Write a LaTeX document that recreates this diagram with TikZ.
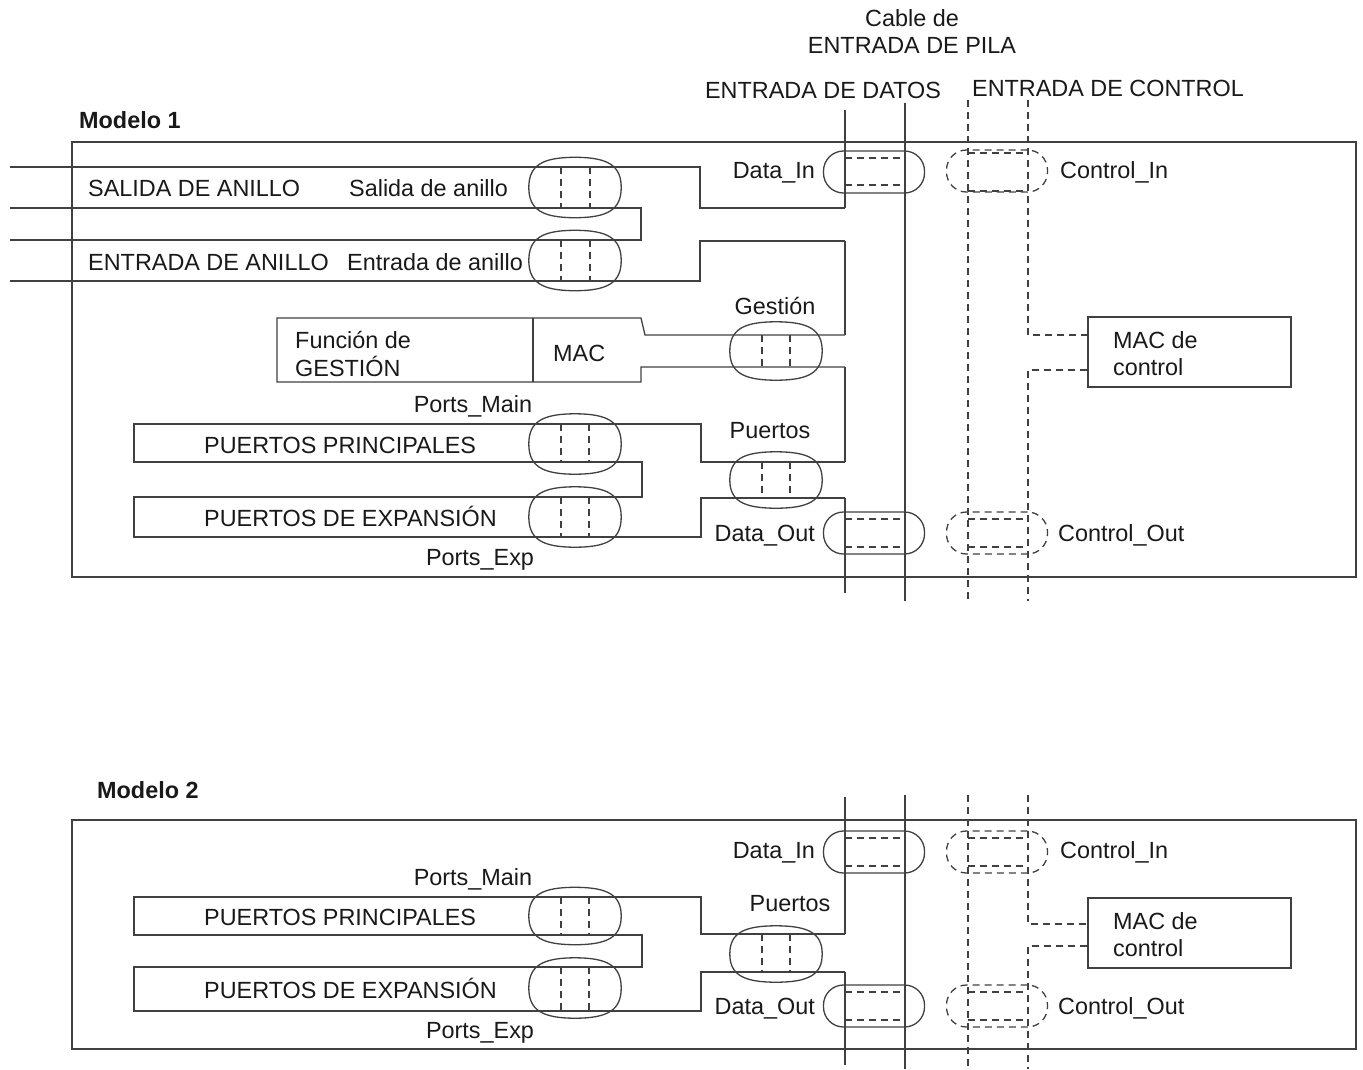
\documentclass[tikz,border=0pt]{standalone}
\usepackage{fontspec}
\setmainfont{Liberation Sans}
\usetikzlibrary{positioning,calc}

\begin{document}
\begin{tikzpicture}
	[   x=1pt,y=-1pt,
	    txt/.style={font=\fontsize{23.4}{27}\selectfont,inner sep=0pt,text=black!90},
	    ttl/.style={txt,font=\fontsize{23.4}{27}\selectfont\bfseries},
	    ring/.style={minimum width=92pt,minimum height=#1,inner sep=0pt},
	    ring/.default=60pt,
	    jack/.style={draw=black!75,line width=1.3pt,rounded corners=20pt,minimum width=101pt,minimum height=42pt,inner sep=0pt},
	    cbox/.style={draw=black!75,line width=1.3pt,minimum width=203pt,minimum height=70pt,inner sep=0pt},
	]
	\tikzset{wire/.style={draw=black!75,line width=1.3pt},
	         ctl/.style={wire,dash pattern=on 7pt off 5pt}}
	\useasboundingbox (0,0) rectangle (1363,1069);

	% cable titles
	\node[txt,anchor=base] (cab-a) at (912,26) {Cable de};
	\node[txt,anchor=base] (cab-b) at (912,53) {ENTRADA DE PILA};
	\node[txt,anchor=base] (cab-d) at (823,98) {ENTRADA DE DATOS};
	\node[txt,anchor=base] (cab-c) at (1108,96) {ENTRADA DE CONTROL};

	%%%%% Modelo 1
	\node[ttl,anchor=base west] (m1) at (79,128) {Modelo 1};
	\draw[wire] (72,142) rectangle (1356,577);

	% ring wires
	\draw[wire] (10,167) -- (700,167) -- (700,208) -- (845,208);
	\draw[wire] (10,208) -- (641,208) -- (641,240) -- (10,240);
	\draw[wire] (10,281) -- (700,281) -- (700,241) -- (845,241);
	\node[ring] (r-out) at (575,187.5) {};
	\node[ring] (r-in) at (575,260.5) {};
	\foreach \x in {561,590}
	{
		\draw[ctl] (\x,167) -- (\x,208);
		\draw[ctl] (\x,240) -- (\x,281);
	}
	\node[txt,anchor=base west] (l-so) at (88,196) {SALIDA DE ANILLO};
	\node[txt,anchor=base west] (l-sa) at (349,196) {Salida de anillo};
	\node[txt,anchor=base west] (l-eo) at (88,270) {ENTRADA DE ANILLO};
	\node[txt,anchor=base west] (l-ea) at (347,270) {Entrada de anillo};

	% management function + MAC
	\draw[wire] (533,318) -- (533,382);
	\draw[wire] (845,335) -- (645,335) -- (641,318) -- (277,318) -- (277,382) -- (641,382) -- (641,367) -- (845,367);
	\node[txt,anchor=base west] (fg-a) at (295,348) {Función de};
	\node[txt,anchor=base west] (fg-b) at (295,376) {GESTIÓN};
	\node[txt,anchor=base west] (mac) at (553,361) {MAC};
	\node[ring=58pt] (r-ges) at (776,351) {};
	\foreach \x in {762,790} \draw[ctl] (\x,335) -- (\x,367);
	\node[txt,anchor=base] (l-ges) at (775,314) {Gestión};

	% ports
	\draw[wire] (845,462) -- (701,462) -- (701,424) -- (134,424) -- (134,462) -- (642,462) -- (642,497) -- (134,497) -- (134,537) -- (701,537) -- (701,498) -- (845,498);
	\node[ring] (r-pm) at (575,444) {};
	\node[ring] (r-pe) at (575,517) {};
	\node[ring=56pt] (r-pu) at (776,480) {};
	\foreach \x in {561,589}
	{
		\draw[ctl] (\x,424) -- (\x,462);
		\draw[ctl] (\x,497) -- (\x,537);
	}
	\foreach \x in {762,790} \draw[ctl] (\x,462) -- (\x,498);
	\node[txt,anchor=base] (l-pm) at (473,412) {Ports\_Main};
	\node[txt,anchor=base west] (l-pp) at (204,453) {PUERTOS PRINCIPALES};
	\node[txt,anchor=base west] (l-px) at (204,526) {PUERTOS DE EXPANSIÓN};
	\node[txt,anchor=base] (l-pe) at (480,565) {Ports\_Exp};
	\node[txt,anchor=base] (l-pu) at (770,438) {Puertos};

	% stack cable
	\draw[wire] (845,110) -- (845,208);
	\draw[wire] (845,241) -- (845,335);
	\draw[wire] (845,367) -- (845,462);
	\draw[wire] (845,498) -- (845,593);
	\draw[wire] (905,103) -- (905,601);
	\node[jack] (di-1) at (874,172) {};
	\node[jack] (do-1) at (874,533) {};
	\node[jack,dash pattern=on 7pt off 5pt] (ci-1) at (997,171) {};
	\node[jack,dash pattern=on 7pt off 5pt] (co-1) at (997,533) {};
	\foreach \y in {158,185,519,547} \draw[ctl] (845,\y) -- (905,\y);
	\foreach \y in {153,191,519,547} \draw[ctl] (968,\y) -- (1028,\y);
	\node[txt,anchor=base east] (l-di1) at (815,178) {Data\_In};
	\node[txt,anchor=base east] (l-do1) at (815,541) {Data\_Out};
	\node[txt,anchor=base west] (l-ci1) at (1060,178) {Control\_In};
	\node[txt,anchor=base west] (l-co1) at (1058,541) {Control\_Out};

	% control MAC
	\node[cbox] (mc-1) at (1189.5,352) {};
	\node[txt,anchor=base west] (mc1-a) at (1113,348) {MAC de};
	\node[txt,anchor=base west] (mc1-b) at (1113,375) {control};
	\draw[ctl] (968,100) -- (968,601);
	\draw[ctl] (1028,100) |- ([yshift=17pt]mc-1.west);
	\draw[ctl] ([yshift=-18pt]mc-1.west) -| (1028,601);

	%%%%% Modelo 2
	\node[ttl,anchor=base west] (m2) at (97,798) {Modelo 2};
	\draw[wire] (72,820) rectangle (1356,1049);

	% ports
	\draw[wire] (845,934) -- (701,934) -- (701,897) -- (134,897) -- (134,935) -- (642,935) -- (642,967) -- (134,967) -- (134,1011) -- (701,1011) -- (701,972) -- (845,972);
	\node[ring=57pt] (r2-pm) at (575,916) {};
	\node[ring] (r2-pe) at (575,988) {};
	\node[ring=56pt] (r2-pu) at (776,954) {};
	\foreach \x in {561,589}
	{
		\draw[ctl] (\x,897) -- (\x,935);
		\draw[ctl] (\x,967) -- (\x,1011);
	}
	\foreach \x in {762,790} \draw[ctl] (\x,934) -- (\x,972);
	\node[txt,anchor=base] (l2-pm) at (473,885) {Ports\_Main};
	\node[txt,anchor=base west] (l2-pp) at (204,925) {PUERTOS PRINCIPALES};
	\node[txt,anchor=base west] (l2-px) at (204,998) {PUERTOS DE EXPANSIÓN};
	\node[txt,anchor=base] (l2-pe) at (480,1038) {Ports\_Exp};
	\node[txt,anchor=base] (l2-pu) at (790,911) {Puertos};

	% stack cable
	\draw[wire] (845,797) -- (845,934);
	\draw[wire] (845,972) -- (845,1065);
	\draw[wire] (905,795) -- (905,1069);
	\node[jack] (di-2) at (874,852) {};
	\node[jack] (do-2) at (874,1006) {};
	\node[jack,dash pattern=on 7pt off 5pt] (ci-2) at (997,852) {};
	\node[jack,dash pattern=on 7pt off 5pt] (co-2) at (997,1006) {};
	\foreach \y in {838,866,992,1020}
	{
		\draw[ctl] (845,\y) -- (905,\y);
		\draw[ctl] (968,\y) -- (1028,\y);
	}
	\node[txt,anchor=base east] (l-di2) at (815,858) {Data\_In};
	\node[txt,anchor=base east] (l-do2) at (815,1014) {Data\_Out};
	\node[txt,anchor=base west] (l-ci2) at (1060,858) {Control\_In};
	\node[txt,anchor=base west] (l-co2) at (1058,1014) {Control\_Out};

	% control MAC
	\node[cbox] (mc-2) at (1189.5,933) {};
	\node[txt,anchor=base west] (mc2-a) at (1113,929) {MAC de};
	\node[txt,anchor=base west] (mc2-b) at (1113,956) {control};
	\draw[ctl] (968,795) -- (968,1069);
	\draw[ctl] (1028,795) |- ([yshift=9pt]mc-2.west);
	\draw[ctl] ([yshift=-13pt]mc-2.west) -| (1028,1069);

	% ring outlines (squashed ellipses)
	\foreach \n in {r-out,r-in,r-ges,r-pm,r-pe,r-pu,r2-pm,r2-pe,r2-pu}
		\draw[wire] (\n.north)
			.. controls ($(\n.north)!.72!(\n.north east)$) and ($(\n.east)!.72!(\n.north east)$) .. (\n.east)
			.. controls ($(\n.east)!.72!(\n.south east)$) and ($(\n.south)!.72!(\n.south east)$) .. (\n.south)
			.. controls ($(\n.south)!.72!(\n.south west)$) and ($(\n.west)!.72!(\n.south west)$) .. (\n.west)
			.. controls ($(\n.west)!.72!(\n.north west)$) and ($(\n.north)!.72!(\n.north west)$) .. (\n.north) -- cycle;
\end{tikzpicture}
\end{document}
